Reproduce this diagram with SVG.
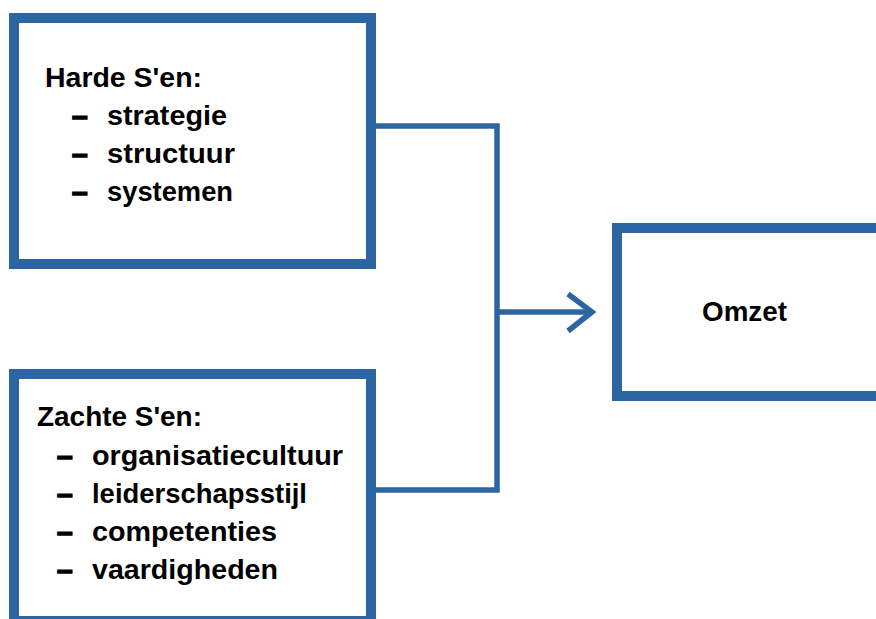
<svg xmlns="http://www.w3.org/2000/svg" width="876" height="619" viewBox="0 0 876 619">
<style>
.box{fill:#ffffff;stroke:#2b66a3;stroke-width:10}
.conn{fill:none;stroke:#2b66a3;stroke-width:5.5}
text{font-family:"Liberation Sans",Arial,sans-serif;font-weight:bold;font-size:28px;fill:#000}
.dash{stroke:#000;stroke-width:1.6}
</style>
<rect width="876" height="619" fill="#ffffff"/>
<g id="connectors">
<polyline class="conn" points="371,126 497,126 497,490 371,490"/>
<line class="conn" x1="497" y1="312" x2="592" y2="312"/>
<polyline class="conn" points="568,294 592,312 568,331"/>
</g>
<g id="harde">
<rect class="box" x="14" y="18" width="357" height="246"/>
<text x="45" y="87" textLength="157" lengthAdjust="spacingAndGlyphs">Harde S'en:</text>
<text class="dash" x="72" y="125">–</text><text x="107" y="125" textLength="120" lengthAdjust="spacingAndGlyphs">strategie</text>
<text class="dash" x="72" y="163">–</text><text x="107" y="163" textLength="128" lengthAdjust="spacingAndGlyphs">structuur</text>
<text class="dash" x="72" y="201">–</text><text x="107" y="201" textLength="126" lengthAdjust="spacingAndGlyphs">systemen</text>
</g>
<g id="zachte">
<rect class="box" x="14" y="374" width="357" height="247"/>
<text x="37" y="426" textLength="165" lengthAdjust="spacingAndGlyphs">Zachte S'en:</text>
<text class="dash" x="57" y="465">–</text><text x="92" y="465" textLength="251" lengthAdjust="spacingAndGlyphs">organisatiecultuur</text>
<text class="dash" x="57" y="503">–</text><text x="92" y="503" textLength="215" lengthAdjust="spacingAndGlyphs">leiderschapsstijl</text>
<text class="dash" x="57" y="541">–</text><text x="92" y="541" textLength="185" lengthAdjust="spacingAndGlyphs">competenties</text>
<text class="dash" x="57" y="579">–</text><text x="92" y="579" textLength="186" lengthAdjust="spacingAndGlyphs">vaardigheden</text>
</g>
<g id="omzet">
<rect class="box" x="617" y="228" width="280" height="168"/>
<text x="702" y="321" textLength="85" lengthAdjust="spacingAndGlyphs">Omzet</text>
</g>
</svg>
